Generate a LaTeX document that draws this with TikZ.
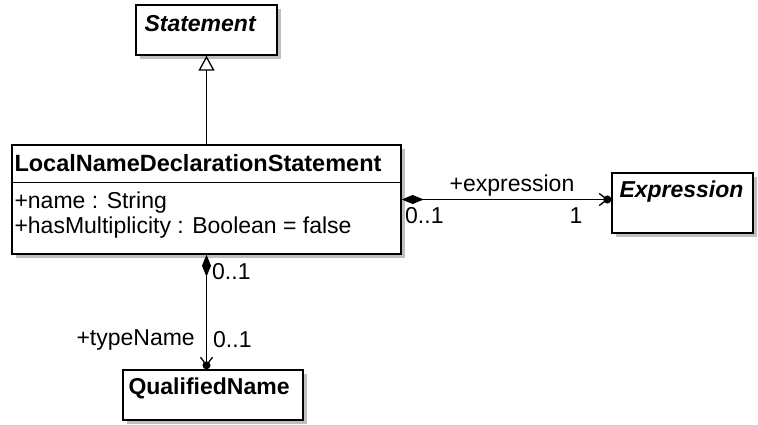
\documentclass[tikz,border=0pt]{standalone}
\usepackage{fontspec}
\setmainfont{Liberation Sans}
\usetikzlibrary{arrows.meta, positioning, shadows}

\begin{document}
\begin{tikzpicture}[
        x=1pt, y=-1pt,
        every node/.style={font=\fontsize{23}{27}\selectfont},
        classbox/.style={
            draw=black,
            line width=1.4pt,
            fill=white,
            inner sep=0pt,
            drop shadow={shadow xshift=4pt, shadow yshift=-4pt, fill=black!25, opacity=1}
        },
        classname/.style={font=\fontsize{23}{27}\selectfont\bfseries, inner sep=0pt, anchor=west},
        member/.style={inner sep=0pt, anchor=west},
        rolelabel/.style={inner sep=0pt},
        assoc/.style={line width=1.3pt},
        generalize/.style={-{Triangle[open, length=15pt, width=16pt]}},
        compnav/.style={{Diamond[length=22pt, width=9pt]}-{Straight Barb[length=8pt, width=12pt, sep=-5pt]Circle[length=8pt]}}
    ]
        % canvas
        \fill[white] (0,0) rectangle (758,425);
        \useasboundingbox (0,0) rectangle (758,425);

        % Classes
        \node[classbox, minimum width=141pt, minimum height=50pt] (stmt) at (206.5,30) {};
        \node[classbox, minimum width=389pt, minimum height=109pt] (lnds) at (206.5,199.5) {};
        \node[classbox, minimum width=141pt, minimum height=60pt] (expr) at (682.5,203) {};
        \node[classbox, minimum width=180pt, minimum height=50pt] (qname) at (213,395) {};

        % Class names and attributes
        \node[classname, font=\fontsize{23}{27}\selectfont\bfseries\itshape] (stmtname) at ([xshift=9pt,yshift=-19pt]stmt.north west) {Statement};
        \node[classname, font=\fontsize{23.5}{27}\selectfont\bfseries] (lndsname) at ([xshift=3pt,yshift=-19pt]lnds.north west) {LocalNameDeclarationStatement};
        \draw[line width=1.3pt] ([yshift=-38pt]lnds.north west) -- ([yshift=-38pt]lnds.north east);
        \node[member] (attrname) at ([xshift=3pt,yshift=-58pt]lnds.north west) {+name : String};
        \node[member] (attrmult) at ([xshift=3pt,yshift=-83pt]lnds.north west) {+hasMultiplicity : Boolean = false};
        \node[classname, font=\fontsize{23}{27}\selectfont\bfseries\itshape] (exprname) at ([xshift=8pt,yshift=-19pt]expr.north west) {Expression};
        \node[classname] (qnamename) at ([xshift=6pt,yshift=-19pt]qname.north west) {QualifiedName};

        % Generalization
        \draw[assoc, generalize] (lnds.north) -- (stmt.south);

        % Compositions
        \draw[assoc, compnav] (lnds.east) -- (lnds.east -| expr.west);
        \draw[assoc, compnav] (lnds.south) -- (lnds.south |- qname.north);

        % Role names and multiplicities
        \node[rolelabel] (exprrole) at (512,186) {+expression};
        \node[rolelabel, anchor=west] (exprsrc) at (405,216) {0..1};
        \node[rolelabel] (exprmult) at (576,216) {1};
        \node[rolelabel, anchor=west] (qnamesrc) at (212,272) {0..1};
        \node[rolelabel, anchor=east] (qnamerole) at (195,340) {+typeName};
        \node[rolelabel, anchor=west] (qnamemult) at (213,340) {0..1};
    \end{tikzpicture}
\end{document}
